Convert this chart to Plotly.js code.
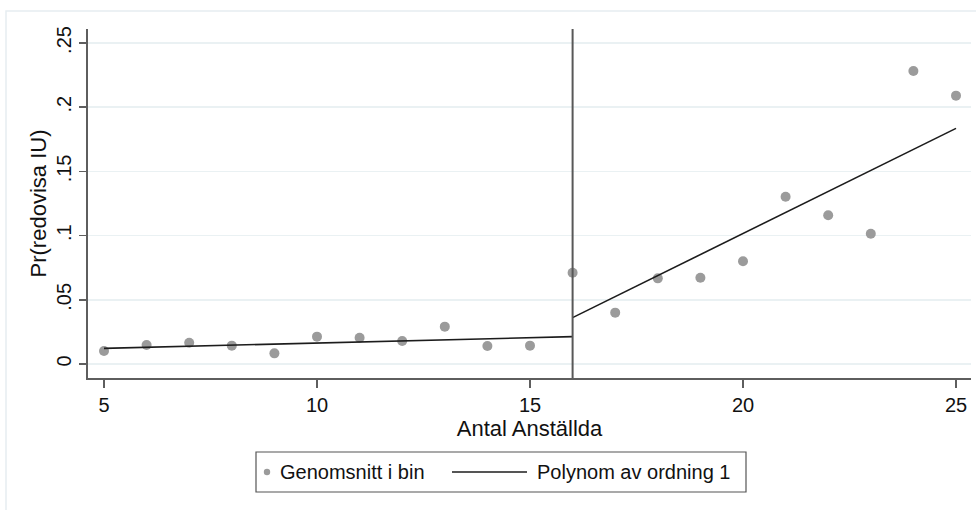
<!DOCTYPE html>
<html>
<head>
<meta charset="utf-8">
<script src="https://cdn.plot.ly/plotly-3.0.1.min.js"></script>
<style>
  html, body { margin: 0; padding: 0; background: #ffffff; }
  #chart { width: 976px; height: 510px; }
</style>
</head>
<body>
<div id="chart"></div>
<script>
// Binned means of the outcome by number of employees
const binCenters = [5, 6, 7, 8, 9, 10, 11, 12, 13, 14, 15, 16, 17, 18, 19, 20, 21, 22, 23, 24, 25];
const binMeans = [0.0101, 0.0148, 0.0166, 0.0143, 0.0083, 0.0213, 0.0205, 0.0179, 0.0291, 0.0140, 0.0143,
                  0.0711, 0.0400, 0.0667, 0.0672, 0.0800, 0.1303, 0.1158, 0.1015, 0.2282, 0.2090];

// Linear fits on each side of the threshold
const cutoff = 16;
const fitLeftX = [5, 16];
const fitLeftY = [0.0122, 0.0213];
const fitRightX = [16, 25];
const fitRightY = [0.0361, 0.1835];

// Axis ticks
const yTickVals = [0, 0.05, 0.1, 0.15, 0.2, 0.25];
const yTickText = ['0', '.05', '.1', '.15', '.2', '.25'];
const xTickVals = [5, 10, 15, 20, 25];

// Legend labels
const seriesNames = ['Genomsnitt i bin', 'Polynom av ordning 1'];

const FONT = 'Liberation Sans, Arial, sans-serif';
const TXT = '#111111';
const AXIS = '#5e5e5e';
const DOT = '#9b9b9b';
const FIT = '#1c1c1c';

const traces = [
  {
    x: binCenters, y: binMeans,
    type: 'scatter', mode: 'markers',
    name: seriesNames[0],
    marker: { color: DOT, size: 10 },
    cliponaxis: false
  },
  {
    x: fitLeftX, y: fitLeftY,
    type: 'scatter', mode: 'lines',
    name: seriesNames[1],
    line: { color: FIT, width: 1.6 }
  },
  {
    x: fitRightX, y: fitRightY,
    type: 'scatter', mode: 'lines',
    name: seriesNames[1],
    line: { color: FIT, width: 1.6 }
  }
];

// Plot area in pixels, used to place the legend box below it
const plotL = 88, plotW = 883, plotB = 378, plotH = 349;
const px = v => (v - plotL) / plotW;
const py = v => (plotB - v) / plotH;
const legendMidY = py(472);

const layout = {
  width: 976, height: 510,
  margin: { l: plotL, r: 976 - plotL - plotW, t: plotB - plotH, b: 510 - plotB },
  paper_bgcolor: '#ffffff',
  plot_bgcolor: '#ffffff',
  font: { family: FONT, size: 20, color: TXT },
  showlegend: false,
  xaxis: {
    range: [4.6244, 25.352],
    tickvals: xTickVals,
    ticks: 'outside', ticklen: 8, tickwidth: 1.5, tickcolor: AXIS,
    showline: true, linecolor: AXIS, linewidth: 2,
    showgrid: false, zeroline: false,
    tickfont: { family: FONT, size: 20, color: TXT },
    title: { text: 'Antal Anställda', font: { family: FONT, size: 22, color: TXT }, standoff: 0 },
    automargin: false,
    fixedrange: true
  },
  yaxis: {
    range: [-0.0109, 0.2609],
    tickvals: yTickVals, ticktext: yTickText,
    tickangle: -90,
    ticks: 'outside', ticklen: 7, tickwidth: 1.5, tickcolor: AXIS,
    showline: true, linecolor: AXIS, linewidth: 2,
    showgrid: true, gridcolor: '#eaf1f3', gridwidth: 1.5,
    zeroline: false,
    tickfont: { family: FONT, size: 20, color: TXT },
    title: { text: 'Pr(redovisa IU)', font: { family: FONT, size: 22, color: TXT }, standoff: 0 },
    automargin: false,
    fixedrange: true
  },
  shapes: [
    // outer graph region frame
    {
      type: 'rect', xref: 'paper', yref: 'paper',
      x0: px(6), x1: 1.2, y0: py(11), y1: -0.6,
      line: { color: '#e6edf1', width: 1.5 }, layer: 'below'
    },
    // threshold line
    {
      type: 'line', xref: 'x', yref: 'paper',
      x0: cutoff, x1: cutoff, y0: 0, y1: 1,
      line: { color: '#585858', width: 2 }
    },
    // legend box
    {
      type: 'rect', xref: 'paper', yref: 'paper',
      x0: px(256), x1: px(746), y0: py(452), y1: py(492),
      line: { color: '#555555', width: 1.2 }, fillcolor: '#ffffff'
    },
    // legend key: bin mean dot
    {
      type: 'circle', xref: 'paper', yref: 'paper',
      xsizemode: 'pixel', ysizemode: 'pixel',
      xanchor: px(267), yanchor: legendMidY,
      x0: -3.2, x1: 3.2, y0: -3.2, y1: 3.2,
      line: { width: 0 }, fillcolor: DOT
    },
    // legend key: fitted line
    {
      type: 'line', xref: 'paper', yref: 'paper',
      x0: px(452), x1: px(527), y0: legendMidY, y1: legendMidY,
      line: { color: FIT, width: 1.6 }
    }
  ],
  annotations: [
    {
      text: seriesNames[0], xref: 'paper', yref: 'paper',
      x: px(278), y: legendMidY, xanchor: 'left', yanchor: 'middle',
      showarrow: false, font: { family: FONT, size: 20, color: TXT }
    },
    {
      text: seriesNames[1], xref: 'paper', yref: 'paper',
      x: px(535), y: legendMidY, xanchor: 'left', yanchor: 'middle',
      showarrow: false, font: { family: FONT, size: 20, color: TXT }
    }
  ]
};

Plotly.newPlot('chart', traces, layout, { displayModeBar: false, staticPlot: true });
</script>
</body>
</html>
